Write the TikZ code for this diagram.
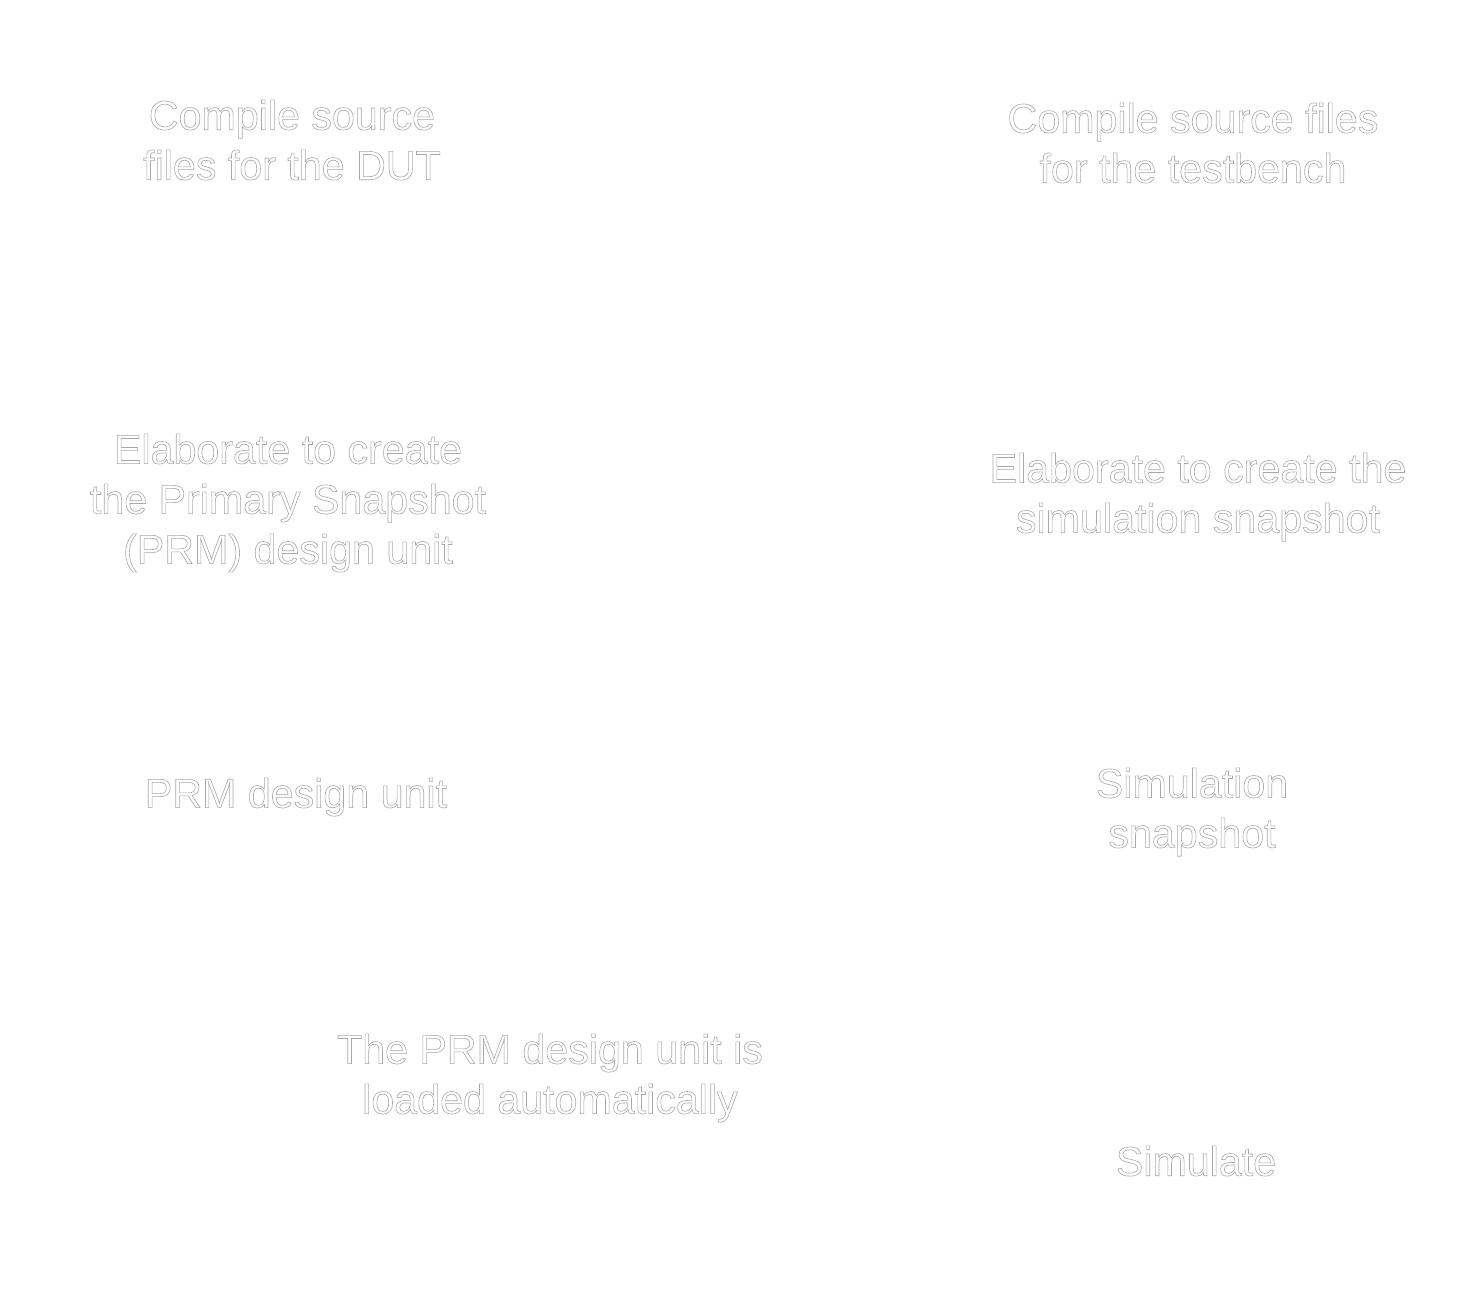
\documentclass[tikz,border=0pt]{standalone}
\usepackage{fontspec}
\setmainfont{Liberation Sans}
\newcommand{\outlinetext}[1]{\special{pdf:code q 1 Tr 0.3 w 0.66 0.66 0.66 RG}#1\special{pdf:code Q}}
\tikzset{
  lbl/.style={align=center, inner sep=0pt, text=white,
    font=\fontsize{20.6}{25}\selectfont}
}
\begin{document}
\begin{tikzpicture}[x=0.5pt,y=-0.5pt]
\useasboundingbox[fill=white] (0,0) rectangle (1482,1311);
\node[lbl] (c1) at (292,140) {\outlinetext{Compile source}\\\outlinetext{files for the DUT}};
\node[lbl] (c2) at (1193,143) {\outlinetext{Compile source files}\\\outlinetext{for the testbench}};
\node[lbl] (e1) at (288,503) {\outlinetext{Elaborate to create}\\\outlinetext{the Primary Snapshot}\\\outlinetext{(PRM) design unit}};
\node[lbl] (e2) at (1198,497) {\outlinetext{Elaborate to create the}\\\outlinetext{simulation snapshot}};
\node[lbl] (p1) at (296,797) {\outlinetext{PRM design unit}};
\node[lbl] (s1) at (1192,812) {\outlinetext{Simulation}\\\outlinetext{snapshot}};
\node[lbl] (l1) at (550,1078) {\outlinetext{The PRM design unit is}\\\outlinetext{loaded automatically}};
\node[lbl] (s2) at (1196,1161) {\outlinetext{Simulate}};
\end{tikzpicture}
\end{document}
